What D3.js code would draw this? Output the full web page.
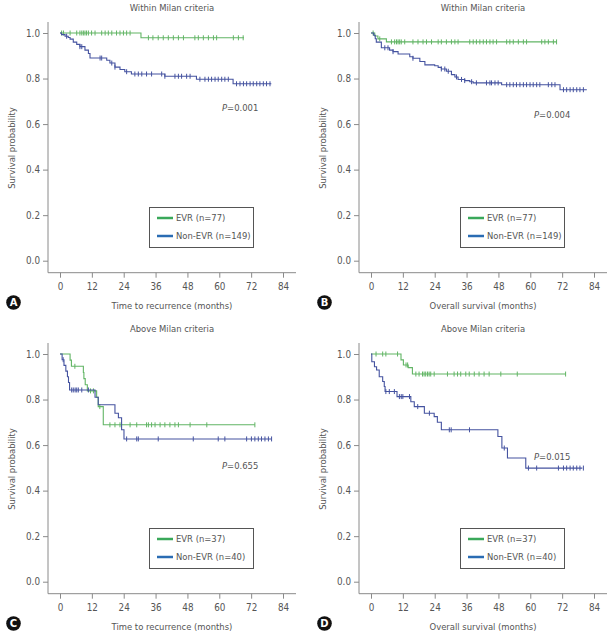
<!DOCTYPE html>
<html><head><meta charset="utf-8">
<script src="https://cdn.jsdelivr.net/npm/d3@7"></script>
<style>
html,body{margin:0;padding:0;background:#fff;}
svg text{font-family:"DejaVu Sans Condensed","Liberation Sans",sans-serif;fill:#555;}
</style></head>
<body><svg id="c" width="615" height="634"></svg>
<script>
// ---------- data ----------
const xTicks = [0, 12, 24, 36, 48, 60, 72, 84];
const yTicks = [0.0, 0.2, 0.4, 0.6, 0.8, 1.0];
const panelLetters = ["A", "B", "C", "D"];
const panelTitles = ["Within Milan criteria", "Within Milan criteria", "Above Milan criteria", "Above Milan criteria"];
const xTitles = ["Time to recurrence (months)", "Overall survival (months)", "Time to recurrence (months)", "Overall survival (months)"];
const pValues = ["0.001", "0.004", "0.655", "0.015"];
const evrN = [77, 77, 37, 37];
const nonEvrN = [149, 149, 40, 40];

// Panel A: within Milan, recurrence
const aEvrSteps = [[0,1],[30.5,0.979]];
const aEvrEnd = 69.3;
const aEvrCensor = [0.6,1.3,3.8,6.3,7.5,8.2,8.8,9.4,10.0,10.7,11.9,13.2,15.7,17.0,18.2,19.5,21.3,22.6,23.9,25.1,26.4,
  33.3,35.0,37.0,38.9,40.8,42.7,44.6,46.5,50.8,52.1,54.0,55.9,57.8,59.0,65.3,67.2,69.0];
const aNonSteps = [[0,1],[0.6,0.993],[1.9,0.986],[3.1,0.98],[3.8,0.973],[5.0,0.96],[6.3,0.95],[7.5,0.94],[9.4,0.925],
  [10.7,0.91],[11.3,0.89],[17.6,0.88],[18.8,0.868],[20.7,0.85],[22.6,0.84],[24.4,0.83],[26.9,0.82],[39.5,0.81],[51.4,0.797],[65.2,0.777]];
const aNonEnd = 79.6;
const aNonCensor = [2.5,7.5,8.2,15.1,15.7,19.5,20.7,25.1,28.2,29.5,30.8,32.6,34.5,38.3,39.5,43.3,44.6,45.8,47.7,49.0,
  52.7,54.6,55.9,57.1,58.4,59.6,60.9,62.1,63.4,66.5,67.8,69.1,70.3,71.6,72.8,74.1,75.3,76.6,77.8,79.1];

// Panel B: within Milan, overall survival
const bEvrSteps = [[0,1],[1.4,0.987],[2.6,0.974],[5.8,0.961]];
const bEvrEnd = 70.0;
const bEvrCensor = [0.8,3.3,7.7,8.9,9.6,10.2,10.8,11.4,12.7,15.8,17.7,19.6,20.9,22.8,25.3,26.5,28.4,30.3,31.6,32.8,37.2,38.5,
  39.7,41.0,42.3,43.5,44.8,46.0,47.3,51.1,52.3,53.6,55.5,57.4,58.6,64.3,65.5,66.8,68.7,69.9];
const bNonSteps = [[0,1],[1.0,0.99],[1.6,0.975],[2.0,0.96],[3.9,0.935],[7.0,0.925],[8.3,0.918],[10.2,0.908],[14.6,0.896],
  [15.8,0.889],[18.4,0.875],[20.3,0.86],[24.0,0.856],[25.3,0.849],[26.5,0.842],[28.4,0.832],[30.3,0.817],[31.6,0.807],
  [32.8,0.796],[35.3,0.791],[37.2,0.786],[38.5,0.781],[49.2,0.773],[71.2,0.751]];
const bNonEnd = 81.3;
const bNonCensor = [5.2,6.4,8.3,15.8,26.5,27.8,29.1,32.2,34.1,35.3,37.9,39.7,43.5,44.8,45.4,46.7,47.9,51.1,52.3,53.6,54.8,
  56.1,57.4,58.6,59.9,61.1,62.4,63.6,66.8,68.1,69.3,72.5,73.7,75.0,76.2,77.5,78.7,80.0];

// Panel C: above Milan, recurrence
const cEvrSteps = [[0,1],[3.8,0.973],[4.3,0.946],[8.8,0.919],[9.0,0.892],[9.5,0.865],[10.3,0.838],[13.8,0.81],[14.4,0.769],[16.3,0.689]];
const cEvrEnd = 73.4;
const cEvrCensor = [5.6,11.5,12.6,15.0,18.8,20.7,22.6,26.4,28.9,32.6,33.3,34.5,35.8,37.7,39.5,41.4,43.3,44.6,49.0,55.3,73.4];
const cNonSteps = [[0,1],[0.8,0.975],[1.5,0.95],[2.2,0.925],[2.8,0.9],[3.2,0.875],[3.6,0.842],[13.2,0.81],[14.4,0.777],
  [20.7,0.74],[22.0,0.72],[23.2,0.667],[24.1,0.627]];
const cNonEnd = 79.7;
const cNonCensor = [1.2,4.4,5.0,5.7,6.3,6.9,8.2,10.7,25.1,28.9,29.5,37.0,50.2,59.6,62.1,70.3,72.1,73.4,74.7,75.9,77.2,78.5,79.7];

// Panel D: above Milan, overall survival
const dEvrSteps = [[0,1],[11.3,0.974],[12.2,0.952],[14.0,0.94],[15.6,0.912]];
const dEvrEnd = 73.4;
const dEvrCensor = [1.9,4.4,5.6,10.0,13.2,13.8,16.9,18.1,19.4,20.0,20.6,21.3,21.9,22.5,23.8,28.8,31.3,32.6,33.8,35.7,37.0,
  38.9,40.7,42.6,44.5,48.9,55.1,73.3];
const dNonSteps = [[0,1],[0.3,0.966],[1.3,0.944],[2.1,0.93],[3.1,0.9],[4.4,0.879],[5.0,0.857],[5.3,0.835],[9.8,0.813],
  [15.0,0.79],[16.3,0.769],[20.1,0.74],[23.8,0.725],[25.0,0.7],[26.5,0.667],[47.8,0.638],[49.3,0.587],[51.4,0.543],[58.3,0.499]];
const dNonEnd = 79.6;
const dNonCensor = [5.6,6.9,8.8,10.7,11.4,12.0,14.5,17.6,22.0,29.5,30.2,37.1,50.2,59.3,62.4,70.6,72.5,73.7,75.0,76.2,77.5,78.7,80.0];

// ---------- layout ----------
const panels = [
  {dx:0,   dy:0,   evr:[aEvrSteps,aEvrEnd,aEvrCensor], non:[aNonSteps,aNonEnd,aNonCensor], p:[222,111]},
  {dx:311, dy:0,   evr:[bEvrSteps,bEvrEnd,bEvrCensor], non:[bNonSteps,bNonEnd,bNonCensor], p:[223,118]},
  {dx:0,   dy:321, evr:[cEvrSteps,cEvrEnd,cEvrCensor], non:[cNonSteps,cNonEnd,cNonCensor], p:[222,148]},
  {dx:311, dy:321, evr:[dEvrSteps,dEvrEnd,dEvrCensor], non:[dNonSteps,dNonEnd,dNonCensor], p:[223,139]}
];
const curveGreen = "#62b565", curveBlue = "#4553a0";
const legGreen = "#3aa85a", legBlue = "#2a6cb3";
const axisCol = "#8a8a8a";
const FS = 9.4;

const svg = d3.select("#c");
const x = d3.scaleLinear().domain([0,84]).range([60,283]);
const y = d3.scaleLinear().domain([0,1]).range([260.7,33]);

panels.forEach((P, i) => {
  const g = svg.append("g").attr("transform", `translate(${P.dx},${P.dy})`);

  // title
  g.append("text").attr("x",172).attr("y",11).attr("text-anchor","middle")
    .attr("font-size",FS).text(panelTitles[i]);

  // y axis
  const ya = g.append("g").attr("transform","translate(48,0)")
    .call(d3.axisLeft(y).tickValues(yTicks).tickFormat(d3.format(".1f")).tickSize(5).tickPadding(3));
  ya.select(".domain").attr("d","M0,22V272.7");
  // x axis
  const xa = g.append("g").attr("transform","translate(0,272.7)")
    .call(d3.axisBottom(x).tickValues(xTicks).tickSize(5).tickPadding(5));
  xa.select(".domain").attr("d","M48,0H296");
  [ya, xa].forEach(a => {
    a.selectAll(".domain").attr("stroke",axisCol).attr("stroke-width",1);
    a.selectAll(".tick line").attr("stroke",axisCol);
    a.selectAll(".tick text").attr("fill","#555").attr("font-size",FS + 0.4)
      .style("font-family",'"DejaVu Sans Condensed","Liberation Sans",sans-serif');
  });

  // axis titles
  g.append("text").attr("x",172).attr("y",309).attr("text-anchor","middle")
    .attr("font-size",FS).text(xTitles[i]);
  g.append("text").attr("transform","translate(15,148) rotate(-90)").attr("text-anchor","middle")
    .attr("font-size",FS).text("Survival probability");

  // panel letter
  g.append("circle").attr("cx",13.5).attr("cy",302.5).attr("r",7.3).attr("fill","#111");
  g.append("text").attr("x",13.5).attr("y",306.2).attr("text-anchor","middle")
    .attr("font-size",10).attr("font-weight","bold").style("fill","#fff")
    .style("font-family","'DejaVu Sans',sans-serif").text(panelLetters[i]);

  // curves
  const line = d3.line().x(d=>x(d[0])).y(d=>y(d[1])).curve(d3.curveStepAfter);
  [[P.evr, curveGreen],[P.non, curveBlue]].forEach(([ser, col]) => {
    const [steps, end, cens] = ser;
    const pts = steps.concat([[end, steps[steps.length-1][1]]]);
    g.append("path").attr("d", line(pts)).attr("fill","none").attr("stroke",col).attr("stroke-width",1.1);
    const survAt = t => { let s = 1; steps.forEach(d => { if (d[0] <= t) s = d[1]; }); return s; };
    g.append("g").selectAll("line").data(cens).join("line")
      .attr("x1",d=>x(d)).attr("x2",d=>x(d))
      .attr("y1",d=>y(survAt(d))-2.5).attr("y2",d=>y(survAt(d))+2.5)
      .attr("stroke",col).attr("stroke-width",1);
  });

  // p value
  const pt = g.append("text").attr("x",P.p[0]).attr("y",P.p[1]).attr("font-size",FS);
  pt.append("tspan").attr("font-style","italic").text("P");
  pt.append("tspan").text("=" + pValues[i]);

  // legend
  const lg = g.append("g");
  lg.append("rect").attr("x",149.5).attr("y",207.5).attr("width",104).attr("height",40)
    .attr("fill","#fff").attr("stroke","#555").attr("stroke-width",1);
  [[legGreen, `EVR (n=${evrN[i]})`, 218],[legBlue, `Non-EVR (n=${nonEvrN[i]})`, 236]].forEach(([c,t,yy]) => {
    lg.append("line").attr("x1",157).attr("x2",173).attr("y1",yy).attr("y2",yy).attr("stroke",c).attr("stroke-width",2.5);
    lg.append("text").attr("x",176).attr("y",yy+3.4).attr("font-size",FS).text(t);
  });
});
</script></body></html>
